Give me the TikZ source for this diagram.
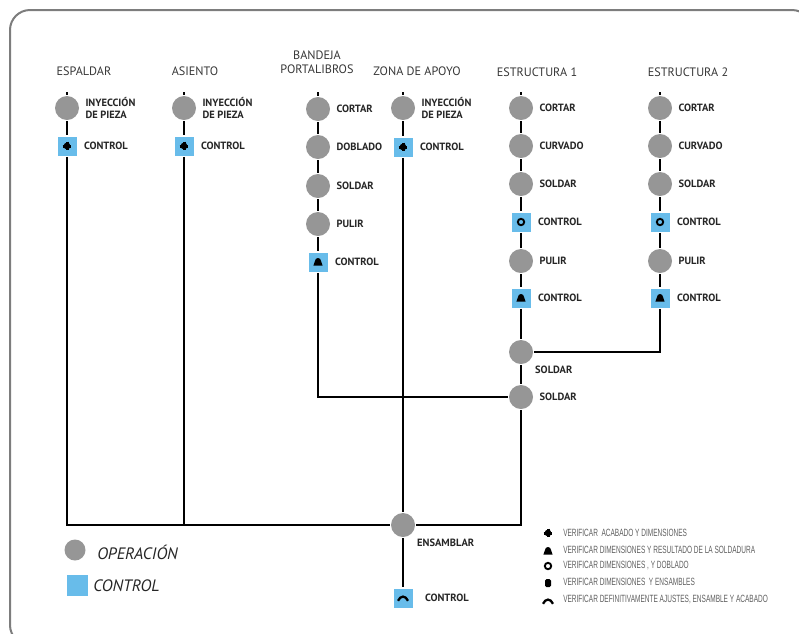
\documentclass[tikz,border=0pt]{standalone}
\usepackage{fontspec}
\setmainfont{PT Sans}
\newfontfamily\narrowfont[FakeStretch=0.62]{Liberation Sans}
\usetikzlibrary{positioning}

\definecolor{opgray}{RGB}{150,150,150}
\definecolor{ctlblue}{RGB}{104,188,234}
\definecolor{framegray}{RGB}{125,125,125}
\definecolor{titlegray}{RGB}{55,55,55}
\definecolor{notegray}{RGB}{95,95,95}

\begin{document}
\begin{tikzpicture}[x=1pt,y=-1pt,line width=2.5pt,
    op node/.style={circle,fill=opgray,minimum size=24pt,inner sep=0pt},
    ctl node/.style={rectangle,fill=ctlblue,minimum size=19pt,inner sep=0pt},
    title/.style={font=\fontsize{12.2}{14}\selectfont,text=titlegray,align=center,inner sep=0pt},
    lbl/.style={font=\bfseries\fontsize{10.5}{12}\selectfont,text=black!85,align=left,inner sep=0pt},
    olab/.style={label={[lbl,label distance=4pt]right:#1}},
    clab/.style={label={[lbl,label distance=5pt]right:#1}},
    note/.style={font=\narrowfont\fontsize{10.5}{12}\selectfont,text=notegray,anchor=west,inner sep=0pt},
    legend/.style={font=\itshape\fontsize{16.5}{18}\selectfont,text=black!85,anchor=west,inner sep=0pt},
    symA/.pic={\fill (0,0) circle (3.4); \draw[line width=3pt] (-4.4,0) -- (4.4,0) (0,-4.4) -- (0,4.4);},
    symB/.pic={\fill (-4.6,3.6) -- (4.6,3.6) -- (3,-1) arc[start angle=0,end angle=-180,radius=3] -- cycle;},
    symC/.pic={\draw[line width=1.9pt] (0,0) circle (3.2);},
    symD/.pic={\fill[rounded corners=1.5pt] (-3,-4) rectangle (3,4);},
    symE/.pic={\draw[line width=2.3pt] (-5,2.8) .. controls (-2.5,-2.8) and (2.5,-2.8) .. (5,2.8);}]

    \useasboundingbox (0,0) rectangle (799,633);
    \draw[framegray,line width=2pt,rounded corners=20pt] (10,10) rectangle (812,645);

    % column titles
    \node[title] (tEsp) at (84,71) {ESPALDAR};
    \node[title] (tAsi) at (195,71) {ASIENTO};
    \node[title] (tBan) at (317,62) {BANDEJA\\PORTALIBROS};
    \node[title] (tZon) at (417,71) {ZONA DE APOYO};
    \node[title] (tE1) at (537,72) {ESTRUCTURA 1};
    \node[title] (tE2) at (688,72) {ESTRUCTURA 2};

    \coordinate (espTop) at (67,92);
    \coordinate (asiTop) at (184,92);
    \coordinate (banTop) at (318,92);
    \coordinate (zonTop) at (403,92);
    \coordinate (e1Top) at (521,92);
    \coordinate (e2Top) at (660,92);

    % espaldar
    \node[op node,olab={INYECCIÓN\\DE PIEZA}] (espA) at (67,108) {};
    \node[ctl node,clab={CONTROL}] (espC) at (67,146) {};
    % asiento
    \node[op node,olab={INYECCIÓN\\DE PIEZA}] (asiA) at (184,108) {};
    \node[ctl node,clab={CONTROL}] (asiC) at (184,146) {};
    % bandeja portalibros
    \node[op node,olab={CORTAR}] (banA) at (318,109) {};
    \node[op node,olab={DOBLADO}] (banB) at (318,147) {};
    \node[op node,olab={SOLDAR}] (banD) at (318,186) {};
    \node[op node,olab={PULIR}] (banE) at (318,224) {};
    \node[ctl node,clab={CONTROL}] (banC) at (318,262) {};
    % zona de apoyo
    \node[op node,olab={INYECCIÓN\\DE PIEZA}] (zonA) at (403,108) {};
    \node[ctl node,clab={CONTROL}] (zonC) at (403,147) {};
    % estructura 1
    \node[op node,olab={CORTAR}] (e1A) at (521,108) {};
    \node[op node,olab={CURVADO}] (e1B) at (521,146) {};
    \node[op node,olab={SOLDAR}] (e1D) at (521,184) {};
    \node[ctl node,clab={CONTROL}] (e1C) at (521,222) {};
    \node[op node,olab={PULIR}] (e1E) at (521,261) {};
    \node[ctl node,clab={CONTROL}] (e1F) at (521,298) {};
    % estructura 2
    \node[op node,olab={CORTAR}] (e2A) at (660,108) {};
    \node[op node,olab={CURVADO}] (e2B) at (660,146) {};
    \node[op node,olab={SOLDAR}] (e2D) at (660,184) {};
    \node[ctl node,clab={CONTROL}] (e2C) at (660,222) {};
    \node[op node,olab={PULIR}] (e2E) at (660,261) {};
    \node[ctl node,clab={CONTROL}] (e2F) at (660,298) {};
    % uniones
    \node[op node,label={[lbl,anchor=north west,label distance=5pt]south east:SOLDAR}] (sol1) at (521,352) {};
    \node[op node,olab={SOLDAR}] (sol2) at (521,397) {};
    \node[op node,label={[lbl,anchor=north west,label distance=5pt]south east:ENSAMBLAR}] (ens) at (403,525) {};
    \node[ctl node,label={[lbl,label distance=10pt]right:CONTROL}] (fin) at (403,598) {};

    % connectors
    \draw (espTop) -- (espA) -- (espC) |- (ens);
    \draw (asiTop) -- (asiA) -- (asiC) -- (asiC |- ens);
    \draw (banTop) -- (banA) -- (banB) -- (banD) -- (banE) -- (banC) |- (sol2);
    \draw (zonTop) -- (zonA) -- (zonC) -- (ens);
    \draw (e1Top) -- (e1A) -- (e1B) -- (e1D) -- (e1C) -- (e1E) -- (e1F) -- (sol1) -- (sol2) |- (ens);
    \draw (e2Top) -- (e2A) -- (e2B) -- (e2D) -- (e2C) -- (e2E) -- (e2F) |- (sol1);
    \draw (ens) -- (fin);

    % symbols in the controls
    \pic at (espC) {symA};
    \pic at (asiC) {symA};
    \pic at (zonC) {symA};
    \pic at (banC) {symB};
    \pic at (e1C) {symC};
    \pic at (e2C) {symC};
    \pic at (e1F) {symB};
    \pic at (e2F) {symB};
    \pic at (fin) {symE};

    % legend
    \node[op node,minimum size=21pt] (legOp) at (75,550) {};
    \node[legend] (legOpT) at (96,552) {OPERACIÓN};
    \node[ctl node,minimum size=21pt] (legCtl) at (77,585) {};
    \node[legend] (legCtlT) at (92,586) {CONTROL};

    \pic at (548,533) {symA};
    \pic at (548,551) {symB};
    \pic at (548,566) {symC};
    \pic at (548,583) {symD};
    \pic at (548,601) {symE};
    \node[note] (n1) at (562,533) {VERIFICAR\ \ ACABADO Y DIMENSIONES};
    \node[note] (n2) at (562,550) {VERIFICAR DIMENSIONES Y RESULTADO DE LA SOLDADURA};
    \node[note] (n3) at (562,565) {VERIFICAR DIMENSIONES , Y DOBLADO};
    \node[note] (n4) at (562,582) {VERIFICAR DIMENSIONES\ \ Y ENSAMBLES};
    \node[note] (n5) at (562,599) {VERIFICAR DEFINITIVAMENTE AJUSTES, ENSAMBLE Y ACABADO};
\end{tikzpicture}
\end{document}
